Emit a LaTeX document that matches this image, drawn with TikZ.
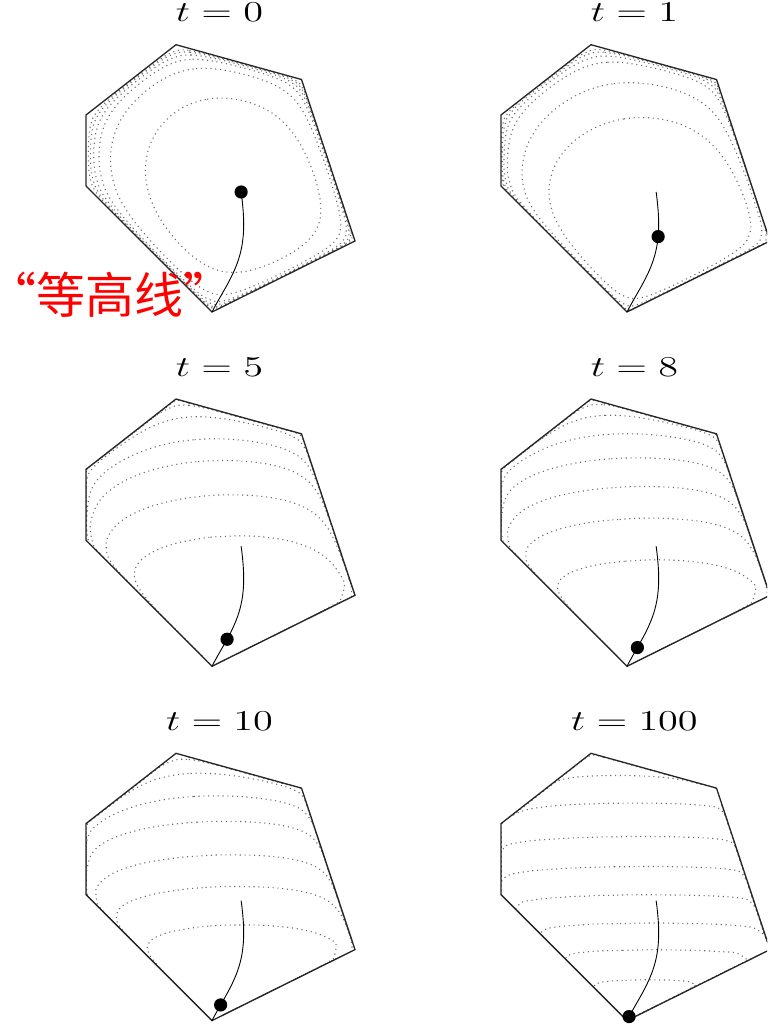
\documentclass[tikz,border=0pt]{standalone}
\usepackage{fontspec}
\usepackage{graphicx}
\newfontfamily\cjk{Noto Sans CJK SC}
\ExplSyntaxOn
\clist_const:Nn \c_rs_vx_clist {176,301.5,355,212,86,86}
\clist_const:Nn \c_rs_vy_clist {44.7,79.5,241,312,186,115}
\clist_const:Nn \c_rs_nsub_clist {10,12,12,13,5,8}
\int_const:Nn \c_rs_K_int {36}
\fp_const:Nn \c_rs_du_fp {0.15}
\fp_const:Nn \c_rs_q_fp { exp(-0.15) }
\fp_const:Nn \c_rs_sb_fp {0.998}
\fp_new:N \l_rs_ax_fp
\fp_new:N \l_rs_ay_fp
\fp_new:N \l_rs_bx_fp
\fp_new:N \l_rs_by_fp
\fp_new:N \l_rs_len_fp
\fp_new:N \l_rs_px_fp
\fp_new:N \l_rs_py_fp
\fp_new:N \l_rs_tau_fp
\fp_new:N \l_rs_gx_fp
\fp_new:N \l_rs_gy_fp
\fp_new:N \l_rs_hxx_fp
\fp_new:N \l_rs_hxy_fp
\fp_new:N \l_rs_hyy_fp
\fp_new:N \l_rs_det_fp
\fp_new:N \l_rs_dx_fp
\fp_new:N \l_rs_dy_fp
\fp_new:N \l_rs_lam_fp
\fp_new:N \l_rs_al_fp
\fp_new:N \l_rs_r_fp
\fp_new:N \l_rs_Dx_fp
\fp_new:N \l_rs_Dy_fp
\fp_new:N \l_rs_lin_fp
\fp_new:N \l_rs_e_fp
\fp_new:N \l_rs_s_fp
\fp_new:N \l_rs_g_fp
\fp_new:N \l_rs_gp_fp
\fp_new:N \l_rs_u_fp
\fp_new:N \l_rs_ss_fp
\fp_new:N \l_rs_fmin_fp
\fp_new:N \l_rs_lastL_fp
\fp_new:N \l_rs_dL_fp
\int_new:N \l_rs_lev_int
\int_new:N \l_rs_nlev_int
\int_new:N \l_rs_k_int
\int_new:N \l_rs_ns_int
\seq_new:N \l_rs_levels_seq
\tl_new:N \RSpx
\tl_new:N \RSpy
\tl_new:N \RSpath
\int_step_inline:nn {6}
 {
  \fp_new:c {l_rs_nx#1_fp}
  \fp_new:c {l_rs_ny#1_fp}
  \fp_new:c {l_rs_b#1_fp}
  \fp_new:c {l_rs_sz#1_fp}
  \fp_new:c {l_rs_w \int_to_alph:n {#1} _fp}
 }
\int_step_inline:nn {20} { \tl_new:c {l_rs_lev#1_tl} }
\int_step_inline:nn {6}
 {
  \fp_set:Nn \l_rs_ax_fp { \clist_item:Nn \c_rs_vx_clist {#1} }
  \fp_set:Nn \l_rs_ay_fp { \clist_item:Nn \c_rs_vy_clist {#1} }
  \fp_set:Nn \l_rs_bx_fp { \clist_item:Nn \c_rs_vx_clist { \int_mod:nn {#1} {6} + 1 } }
  \fp_set:Nn \l_rs_by_fp { \clist_item:Nn \c_rs_vy_clist { \int_mod:nn {#1} {6} + 1 } }
  \fp_set:Nn \l_rs_len_fp { sqrt( (\l_rs_bx_fp - \l_rs_ax_fp)^2 + (\l_rs_by_fp - \l_rs_ay_fp)^2 ) }
  \fp_set:cn {l_rs_nx#1_fp} { (\l_rs_by_fp - \l_rs_ay_fp) / \l_rs_len_fp }
  \fp_set:cn {l_rs_ny#1_fp} { (\l_rs_ax_fp - \l_rs_bx_fp) / \l_rs_len_fp }
  \fp_set:cn {l_rs_b#1_fp} { \use:c {l_rs_nx#1_fp} * \l_rs_ax_fp + \use:c {l_rs_ny#1_fp} * \l_rs_ay_fp }
 }
\cs_new:Npn \rs_slack:nnn #1#2#3
 { ( \use:c {l_rs_b#1_fp} - \use:c {l_rs_nx#1_fp} * (#2) - \use:c {l_rs_ny#1_fp} * (#3) ) }
\cs_new:Npn \rs_f:nn #1#2
 {
  ( - \l_rs_tau_fp * (#2) - ln( \rs_slack:nnn {1}{#1}{#2} * \rs_slack:nnn {2}{#1}{#2}
     * \rs_slack:nnn {3}{#1}{#2} * \rs_slack:nnn {4}{#1}{#2}
     * \rs_slack:nnn {5}{#1}{#2} * \rs_slack:nnn {6}{#1}{#2} ) )
 }
\cs_new_protected:Npn \rs_newton_step:
 {
  \fp_zero:N \l_rs_gx_fp
  \fp_set:Nn \l_rs_gy_fp { - \l_rs_tau_fp }
  \fp_zero:N \l_rs_hxx_fp
  \fp_zero:N \l_rs_hxy_fp
  \fp_zero:N \l_rs_hyy_fp
  \int_step_inline:nn {6}
   {
    \fp_set:Nn \l_rs_r_fp { 1 / \rs_slack:nnn {##1} {\l_rs_px_fp} {\l_rs_py_fp} }
    \fp_add:Nn \l_rs_gx_fp { \use:c {l_rs_nx##1_fp} * \l_rs_r_fp }
    \fp_add:Nn \l_rs_gy_fp { \use:c {l_rs_ny##1_fp} * \l_rs_r_fp }
    \fp_add:Nn \l_rs_hxx_fp { ( \use:c {l_rs_nx##1_fp} * \l_rs_r_fp )^2 }
    \fp_add:Nn \l_rs_hxy_fp { \use:c {l_rs_nx##1_fp} * \use:c {l_rs_ny##1_fp} * \l_rs_r_fp^2 }
    \fp_add:Nn \l_rs_hyy_fp { ( \use:c {l_rs_ny##1_fp} * \l_rs_r_fp )^2 }
   }
  \fp_set:Nn \l_rs_det_fp { \l_rs_hxx_fp * \l_rs_hyy_fp - \l_rs_hxy_fp^2 }
  \fp_set:Nn \l_rs_dx_fp { ( \l_rs_hxy_fp * \l_rs_gy_fp - \l_rs_hyy_fp * \l_rs_gx_fp ) / \l_rs_det_fp }
  \fp_set:Nn \l_rs_dy_fp { ( \l_rs_hxy_fp * \l_rs_gx_fp - \l_rs_hxx_fp * \l_rs_gy_fp ) / \l_rs_det_fp }
  \fp_set:Nn \l_rs_lam_fp { sqrt( abs( \l_rs_gx_fp * \l_rs_dx_fp + \l_rs_gy_fp * \l_rs_dy_fp ) ) }
  \fp_set:Nn \l_rs_al_fp { \l_rs_lam_fp < 0.25 ? 1 : 1 / ( 1 + \l_rs_lam_fp ) }
  \fp_add:Nn \l_rs_px_fp { \l_rs_al_fp * \l_rs_dx_fp }
  \fp_add:Nn \l_rs_py_fp { \l_rs_al_fp * \l_rs_dy_fp }
 }
\cs_new_protected:Npn \rs_add_point:
 {
  \tl_put_right:cx { l_rs_lev \int_use:N \l_rs_lev_int _tl }
   {
    ( \fp_eval:n { round( \l_rs_px_fp + \l_rs_ss_fp * \l_rs_Dx_fp , 2 ) } ,
      \fp_eval:n { round( \l_rs_py_fp + \l_rs_ss_fp * \l_rs_Dy_fp , 2 ) } ) ~
   }
 }
\cs_new_protected:Npn \rs_check:
 {
  \int_compare:nNnT \l_rs_lev_int < { \l_rs_nlev_int + 1 }
   {
    \fp_compare:nNnT \l_rs_g_fp > { \seq_item:Nn \l_rs_levels_seq { \l_rs_lev_int } }
     {
      \fp_set:Nn \l_rs_u_fp
       { ( \l_rs_k_int - 1 + ( \seq_item:Nn \l_rs_levels_seq { \l_rs_lev_int } - \l_rs_gp_fp )
           / ( \l_rs_g_fp - \l_rs_gp_fp ) ) * \c_rs_du_fp }
      \fp_set:Nn \l_rs_ss_fp { 1 - exp( - \l_rs_u_fp ) }
      \rs_add_point:
      \int_incr:N \l_rs_lev_int
      \rs_check:
     }
   }
 }
\cs_new_protected:Npn \rs_scan:
 {
  \bool_if:nT
   {
    \int_compare_p:nNn \l_rs_k_int < \c_rs_K_int
    && \int_compare_p:nNn \l_rs_lev_int < { \l_rs_nlev_int + 1 }
   }
   {
    \int_incr:N \l_rs_k_int
    \fp_set_eq:NN \l_rs_gp_fp \l_rs_g_fp
    \fp_set:Nn \l_rs_e_fp { \l_rs_e_fp * \c_rs_q_fp }
    \fp_set:Nn \l_rs_s_fp { 1 - \l_rs_e_fp }
    \fp_set:Nn \l_rs_g_fp
     {
      \l_rs_lin_fp * \l_rs_s_fp
      - ln( ( 1 - \l_rs_s_fp * \l_rs_wa_fp ) * ( 1 - \l_rs_s_fp * \l_rs_wb_fp )
          * ( 1 - \l_rs_s_fp * \l_rs_wc_fp ) * ( 1 - \l_rs_s_fp * \l_rs_wd_fp )
          * ( 1 - \l_rs_s_fp * \l_rs_we_fp ) * ( 1 - \l_rs_s_fp * \l_rs_wf_fp ) )
     }
    \rs_check:
    \rs_scan:
   }
 }
\cs_new_protected:Npn \rs_ray:nn #1#2
 {
  \fp_set:Nn \l_rs_Dx_fp { #1 - \l_rs_px_fp }
  \fp_set:Nn \l_rs_Dy_fp { #2 - \l_rs_py_fp }
  \int_step_inline:nn {6}
   {
    \fp_set:cn { l_rs_w \int_to_alph:n {##1} _fp }
     { ( \use:c {l_rs_nx##1_fp} * \l_rs_Dx_fp + \use:c {l_rs_ny##1_fp} * \l_rs_Dy_fp ) / \use:c {l_rs_sz##1_fp} }
   }
  \fp_set:Nn \l_rs_lin_fp { - \l_rs_tau_fp * \l_rs_Dy_fp }
  \int_set:Nn \l_rs_lev_int {1}
  \int_zero:N \l_rs_k_int
  \fp_set:Nn \l_rs_e_fp {1}
  \fp_zero:N \l_rs_g_fp
  \rs_scan:
  \int_while_do:nNnn \l_rs_lev_int < { \l_rs_nlev_int + 1 }
   {
    \fp_set_eq:NN \l_rs_ss_fp \c_rs_sb_fp
    \rs_add_point:
    \int_incr:N \l_rs_lev_int
   }
 }
\cs_new_protected:Npn \rs_panel:nnn #1#2#3
 {
  \fp_set:Nn \l_rs_tau_fp {#1}
  \fp_set:Nn \l_rs_px_fp {241}
  \fp_set:Nn \l_rs_py_fp {190}
  \prg_replicate:nn {30} { \rs_newton_step: }
  \tl_set:Nx \RSpx { \fp_eval:n { round( \l_rs_px_fp , 2 ) } }
  \tl_set:Nx \RSpy { \fp_eval:n { round( \l_rs_py_fp , 2 ) } }
  \fp_set:Nn \l_rs_fmin_fp { \rs_f:nn {\l_rs_px_fp} {\l_rs_py_fp} }
  \seq_clear:N \l_rs_levels_seq
  \clist_map_inline:nn {#2}
   {
    \seq_put_right:Nx \l_rs_levels_seq { \fp_eval:n { \rs_f:nn {240} {##1} - \l_rs_fmin_fp } }
   }
  \int_set:Nn \l_rs_nlev_int { \seq_count:N \l_rs_levels_seq }
  \fp_set:Nn \l_rs_lastL_fp { \seq_item:Nn \l_rs_levels_seq { \l_rs_nlev_int } }
  \fp_set:Nn \l_rs_dL_fp { \l_rs_lastL_fp - \seq_item:Nn \l_rs_levels_seq { \l_rs_nlev_int - 1 } }
  \int_step_inline:nn {#3}
   {
    \seq_put_right:Nx \l_rs_levels_seq { \fp_eval:n { \l_rs_lastL_fp + ##1 * \l_rs_dL_fp } }
   }
  \int_set:Nn \l_rs_nlev_int { \seq_count:N \l_rs_levels_seq }
  \int_step_inline:nn {20} { \tl_clear:c {l_rs_lev##1_tl} }
  \int_step_inline:nn {6}
   {
    \fp_set:cn {l_rs_sz##1_fp} { \rs_slack:nnn {##1} {\l_rs_px_fp} {\l_rs_py_fp} }
   }
  \int_step_inline:nn {6}
   {
    \int_set:Nn \l_rs_ns_int { \clist_item:Nn \c_rs_nsub_clist {##1} }
    \fp_set:Nn \l_rs_ax_fp { \clist_item:Nn \c_rs_vx_clist {##1} }
    \fp_set:Nn \l_rs_ay_fp { \clist_item:Nn \c_rs_vy_clist {##1} }
    \fp_set:Nn \l_rs_bx_fp { \clist_item:Nn \c_rs_vx_clist { \int_mod:nn {##1} {6} + 1 } }
    \fp_set:Nn \l_rs_by_fp { \clist_item:Nn \c_rs_vy_clist { \int_mod:nn {##1} {6} + 1 } }
    \int_step_inline:nnn {0} { \l_rs_ns_int - 1 }
     {
      \rs_ray:nn
       { \l_rs_ax_fp + ####1 / \l_rs_ns_int * ( \l_rs_bx_fp - \l_rs_ax_fp ) }
       { \l_rs_ay_fp + ####1 / \l_rs_ns_int * ( \l_rs_by_fp - \l_rs_ay_fp ) }
     }
   }
 }
\cs_new_protected:Npn \rs_path:
 {
  \fp_set:Nn \l_rs_px_fp {241}
  \fp_set:Nn \l_rs_py_fp {190}
  \tl_clear:N \RSpath
  \clist_map_inline:nn
   {0,0.001,0.0025,0.005,0.008,0.012,0.017,0.023,0.03,0.04,0.052,0.066,0.083,0.105,0.135,0.18,0.25,0.35,0.5,0.8,1.3,2.5}
   {
    \fp_set:Nn \l_rs_tau_fp {##1}
    \prg_replicate:nn {8} { \rs_newton_step: }
    \tl_put_right:Nx \RSpath
     { ( \fp_eval:n { round( \l_rs_px_fp , 2 ) } , \fp_eval:n { round( \l_rs_py_fp , 2 ) } ) ~ }
   }
  \tl_put_right:Nn \RSpath { (212,312) }
 }
\cs_new_protected:Npn \rs_draw_contour:n #1 { \draw[ctr] ~ plot ~ coordinates ~ {#1}; }
\cs_new_protected:Npn \rs_draw_path:n #1 { \draw[cpath] ~ plot ~ coordinates ~ {#1}; }
\NewDocumentCommand \RSPanel { m m m } { \rs_panel:nnn {#1} {#2} {#3} }
\NewDocumentCommand \RSContours { }
 {
  \int_step_inline:nn { \l_rs_nlev_int }
   { \exp_args:Nv \rs_draw_contour:n { l_rs_lev##1_tl } }
 }
\NewDocumentCommand \RSPathCompute { } { \rs_path: }
\NewDocumentCommand \RSPathDraw { } { \exp_args:NV \rs_draw_path:n \RSpath }
\ExplSyntaxOff
\tikzset{
  hexa/.style={draw=black!85, line width=0.65pt, line join=miter},
  ctr/.style={draw=black!58, line width=0.55pt, dash pattern=on 0.55pt off 1.85pt, smooth cycle, tension=0.5},
  cpath/.style={draw=black, line width=0.45pt, smooth, tension=0.5},
  ttl/.style={anchor=base, inner sep=0pt, font=\fontsize{14.8}{17}\selectfont},
  lbl/.style={text=red, inner sep=0pt, font=\cjk\fontsize{24.5}{28}\selectfont},
}
\newcommand\RSDraw[7]{%
  \RSPanel{#3}{#4}{#5}%
  \begin{scope}[shift={(#1,#2)}]
    \begin{scope}
      \clip (176,44.7) -- (301.5,79.5) -- (355,241) -- (212,312) -- (86,186) -- (86,115) -- cycle;
      \RSContours
    \end{scope}
    \draw[hexa] (176,44.7) -- (301.5,79.5) -- (355,241) -- (212,312) -- (86,186) -- (86,115) -- cycle;
    \RSPathDraw
    \fill[black] (\RSpx,\RSpy) circle[radius=3.3pt];
    \node[ttl] (#7) at (219.5,21.7) {\scalebox{1.4}[1]{$#6$}};
  \end{scope}}
\begin{document}
\RSPathCompute
\begin{tikzpicture}[x=0.5pt,y=-0.5pt]
\useasboundingbox (0,0) rectangle (767,1024);
\clip (0,0) rectangle (767,1024);
\RSDraw{0}{0}{0}{100,73.3,67,64.8}{2}{t=0}{t0}
\RSDraw{415}{0}{0.0132}{118.3,85,68.3,65}{2}{t=1}{t1}
\RSDraw{0}{354.3}{0.0645}{181.7,140.7,106.7,85.7,67.3}{3}{t=5}{t5}
\RSDraw{415}{354.3}{0.098}{205.7,164,132.4,104,80.7}{3}{t=8}{t8}
\RSDraw{0}{708.6}{0.119}{216.4,178,146.4,113,88,68}{2}{t=10}{t10}
\RSDraw{415}{708.6}{0.49}{271.4,241.4,214.7,186.4,158.1,128.1,94.7,68.1}{1}{t=100}{t100}
\node[lbl] (label) at (110,295) {“等高线”};
\end{tikzpicture}
\end{document}
